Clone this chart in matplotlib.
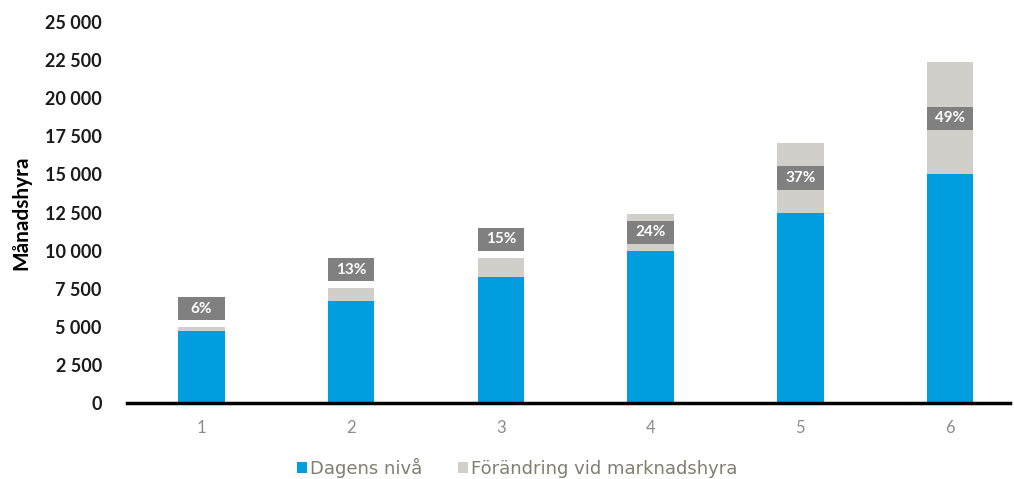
import matplotlib
matplotlib.use("Agg")
import matplotlib.pyplot as plt
from matplotlib.patches import Patch, Rectangle

categories = ["1", "2", "3", "4", "5", "6"]
dagens = [4700, 6700, 8300, 10000, 12450, 15000]
forandring = [290, 850, 1230, 2400, 4610, 7350]
pct_labels = ["6%", "13%", "15%", "24%", "37%", "49%"]
yticks = [0, 2500, 5000, 7500, 10000, 12500, 15000, 17500, 20000, 22500, 25000]

BLUE = "#009EDE"
GREY = "#D0CFCA"
BOX = "#808080"

plt.rcParams['font.family'] = ['Lato', 'DejaVu Sans']

fig = plt.figure(figsize=(10.14, 4.79), dpi=100)
ax = fig.add_axes([0.125, 0.1587, 0.871, 0.7953])

x = list(range(1, len(categories) + 1))
w = 0.31
ax.bar(x, dagens, width=w, color=BLUE, label="Dagens nivå", zorder=2)
ax.bar(x, forandring, width=w, bottom=dagens, color=GREY,
       label="Förändring vid marknadshyra", zorder=2)

ax.set_xlim(0.5, 6.4)
ax.set_ylim(0, 25000)

box_h = 1550  # label box height in data units (~24 px)
for xi, d, f, lab in zip(x, dagens, forandring, pct_labels):
    if f > 2000:
        yl = d + f / 2
    else:
        yl = d + f + 1200
    ax.add_patch(Rectangle((xi - w / 2, yl - box_h / 2), w, box_h,
                           facecolor=BOX, edgecolor="none", zorder=3))
    ax.text(xi, yl, lab, ha="center", va="center", color="white",
            fontsize=11, fontweight="bold", zorder=4)

ax.set_xticks(x)
ax.set_xticklabels(categories, color="#8C8C8C", fontsize=12)
ax.set_yticks(yticks)
ax.set_yticklabels([f"{v:,}".replace(",", " ") for v in yticks],
                   fontsize=13, fontweight="bold", color="#1a1a1a")
ax.tick_params(axis="both", length=0)
ax.tick_params(axis="y", pad=18)
ax.tick_params(axis="x", pad=12)
for s in ["top", "right", "left"]:
    ax.spines[s].set_visible(False)
ax.spines["bottom"].set_linewidth(2.5)
ax.spines["bottom"].set_color("black")
ax.spines["bottom"].set_zorder(5)
ax.set_ylabel("Månadshyra", fontsize=15, fontweight="bold", color="black")
ax.yaxis.set_label_coords(-0.108, 0.5)

handles = [Patch(facecolor=BLUE), Patch(facecolor=GREY)]
fig.legend(handles, ["Dagens nivå", "Förändring vid marknadshyra"],
           loc="center", bbox_to_anchor=(0.51, 0.023), ncol=2, frameon=False,
           prop={"family": "DejaVu Sans", "size": 13},
           labelcolor="#7F7F72", handlelength=0.55,
           handleheight=0.55, handletextpad=0.15, columnspacing=2.0)

fig.savefig("out.png", dpi=100)
